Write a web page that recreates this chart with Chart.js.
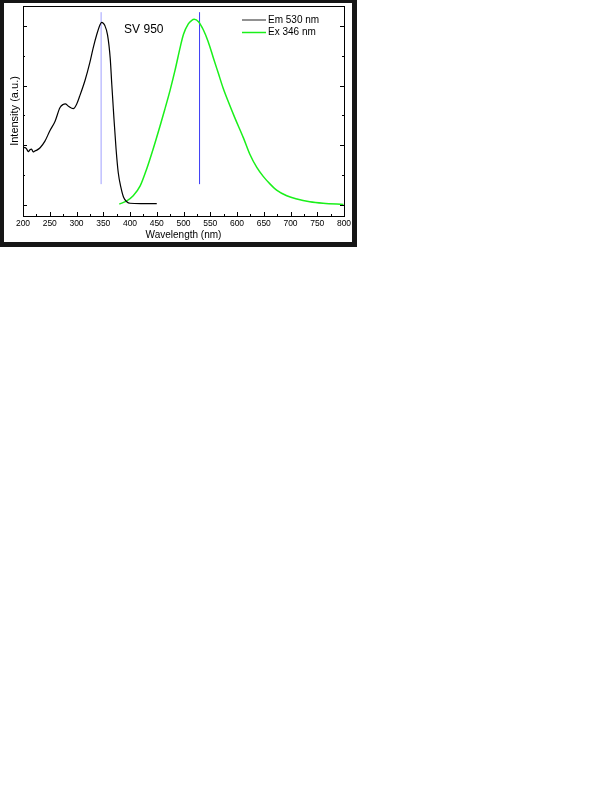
<!DOCTYPE html>
<html>
<head>
<meta charset="utf-8">
<script src="https://cdn.jsdelivr.net/npm/chart.js@4.4.0/dist/chart.umd.min.js"></script>
<style>
  html, body { margin: 0; padding: 0; background: #ffffff; }
  #frame { position: absolute; left: 0; top: 0; width: 357px; height: 247px; background: #161616; }
  #wrap { position: absolute; left: 4px; top: 3px; width: 348px; height: 239px; background: #ffffff; }
  canvas { display: block; }
</style>
</head>
<body>
<div id="frame"></div>
<div id="wrap"><canvas id="c" width="348" height="239"></canvas></div>
<script>
// ---- Data ----
const exWavelength = [202, 206, 210, 213, 216, 219, 222, 226, 232, 241, 250, 260, 269, 275, 279, 285, 294, 300, 306, 316, 325, 331, 338, 344, 347, 353, 358, 363, 366, 370, 374, 378, 383, 388, 394, 400, 420, 450];
const exIntensity  = [1.93, 1.90, 1.79, 1.85, 1.87, 1.78, 1.81, 1.84, 1.92, 2.14, 2.48, 2.81, 3.26, 3.37, 3.39, 3.31, 3.23, 3.37, 3.65, 4.18, 4.78, 5.25, 5.72, 6.04, 6.12, 6.01, 5.70, 4.92, 4.03, 2.90, 1.87, 1.09, 0.59, 0.26, 0.11, 0.06, 0.05, 0.05];

const emWavelength = [380, 394, 406, 419, 431, 444, 456, 465, 475, 484, 494, 500, 509, 515, 520, 528, 537, 546, 556, 565, 574, 584, 596, 612, 624, 637, 649, 662, 674, 693, 712, 736, 761, 799];
const emIntensity  = [0.03, 0.14, 0.31, 0.64, 1.20, 1.92, 2.64, 3.20, 3.85, 4.50, 5.30, 5.72, 6.07, 6.18, 6.22, 6.14, 5.87, 5.48, 4.92, 4.42, 3.92, 3.45, 2.92, 2.25, 1.70, 1.26, 0.96, 0.70, 0.50, 0.31, 0.20, 0.11, 0.06, 0.02];

const markerWavelengths = [346, 530];
const markerRange = [0.70, 6.46];

const xTickValues = [200, 250, 300, 350, 400, 450, 500, 550, 600, 650, 700, 750, 800];
const seriesLabels = ['Em 530 nm', 'Ex 346 nm'];
const sampleName = 'SV 950';
const xTitle = 'Wavelength (nm)';
const yTitle = 'Intensity (a.u.)';

// ---- Build datasets ----
function pts(xs, ys) { return xs.map((x, i) => ({ x: x, y: ys[i] })); }

const datasets = [
  { label: seriesLabels[0], data: pts(exWavelength, exIntensity), borderColor: '#000000', borderWidth: 1.2, pointRadius: 0, cubicInterpolationMode: 'monotone', fill: false },
  { label: seriesLabels[1], data: pts(emWavelength, emIntensity), borderColor: '#1af01a', borderWidth: 1.5, pointRadius: 0, cubicInterpolationMode: 'monotone', fill: false },
  { label: 'm1', data: [{ x: markerWavelengths[0], y: markerRange[0] }, { x: markerWavelengths[0], y: markerRange[1] }], borderColor: '#a0a0ff', borderWidth: 1, pointRadius: 0, fill: false },
  { label: 'm2', data: [{ x: markerWavelengths[1], y: markerRange[0] }, { x: markerWavelengths[1], y: markerRange[1] }], borderColor: '#3a3af5', borderWidth: 1, pointRadius: 0, fill: false }
];

const yMin = -0.367, yMax = 6.667;
const FONT = '"Liberation Sans", Arial, sans-serif';

const framePlugin = {
  id: 'framePlugin',
  afterDatasetsDraw(chart) {
    const ctx = chart.ctx;
    const a = chart.chartArea;
    const xs = chart.scales.x, ys = chart.scales.y;
    ctx.save();
    ctx.strokeStyle = '#000';
    ctx.lineWidth = 1;
    ctx.strokeRect(Math.round(a.left) + 0.5, Math.round(a.top) + 0.5, Math.round(a.right - a.left), Math.round(a.bottom - a.top));
    ctx.beginPath();
    for (let v = 200; v <= 800; v += 25) {
      const px = Math.round(xs.getPixelForValue(v)) + 0.5;
      const len = (v % 50 === 0) ? 4 : 2;
      ctx.moveTo(px, a.bottom);
      ctx.lineTo(px, a.bottom - len);
    }
    for (let v = 0; v <= 6; v += 1) {
      const py = Math.round(ys.getPixelForValue(v)) + 0.5;
      const len = (v % 2 === 0) ? 4 : 2;
      ctx.moveTo(a.left, py); ctx.lineTo(a.left + len, py);
      ctx.moveTo(a.right, py); ctx.lineTo(a.right - len, py);
    }
    ctx.stroke();

    ctx.fillStyle = '#000';
    ctx.font = '12px ' + FONT;
    ctx.textBaseline = 'middle';
    ctx.textAlign = 'left';
    ctx.fillText(sampleName, xs.getPixelForValue(389), ys.getPixelForValue(5.87));

    ctx.font = '10px ' + FONT;
    const lx0 = a.right - 102, lx1 = a.right - 78, tx = a.right - 76;
    const rows = [{ y: a.top + 14, color: '#555555', w: 1.3 }, { y: a.top + 26.5, color: '#1af01a', w: 1.5 }];
    rows.forEach((r, i) => {
      ctx.beginPath();
      ctx.strokeStyle = r.color;
      ctx.lineWidth = r.w;
      ctx.moveTo(lx0, r.y); ctx.lineTo(lx1, r.y);
      ctx.stroke();
      ctx.fillStyle = '#000';
      ctx.fillText(chart.data.datasets[i].label, tx, r.y);
    });
    ctx.restore();
  }
};

new Chart(document.getElementById('c'), {
  type: 'line',
  data: { datasets: datasets },
  options: {
    responsive: false,
    animation: false,
    devicePixelRatio: 1,
    layout: { padding: { top: 3, right: 8, left: 0, bottom: 0 } },
    plugins: { legend: { display: false }, tooltip: { enabled: false } },
    scales: {
      x: {
        type: 'linear', min: 200, max: 800,
        afterBuildTicks: s => { s.ticks = xTickValues.map(v => ({ value: v })); },
        afterFit: s => { s.height = 26; s.paddingLeft = 0; s.paddingRight = 0; },
        grid: { display: false, drawTicks: false },
        border: { display: false },
        ticks: { color: '#000', padding: 3, maxRotation: 0, autoSkip: false, font: { size: 8.5, family: FONT } },
        title: { display: true, text: xTitle, color: '#000', padding: { top: 0, bottom: 1 }, font: { size: 10, family: FONT } }
      },
      y: {
        type: 'linear', min: yMin, max: yMax,
        afterFit: s => { s.width = 19; s.paddingTop = 0; s.paddingBottom = 0; },
        grid: { display: false, drawTicks: false },
        border: { display: false },
        ticks: { display: false },
        title: { display: true, text: yTitle, color: '#000', padding: { top: 4, bottom: 0 }, font: { size: 11, family: FONT } }
      }
    }
  },
  plugins: [framePlugin]
});
</script>
</body>
</html>
